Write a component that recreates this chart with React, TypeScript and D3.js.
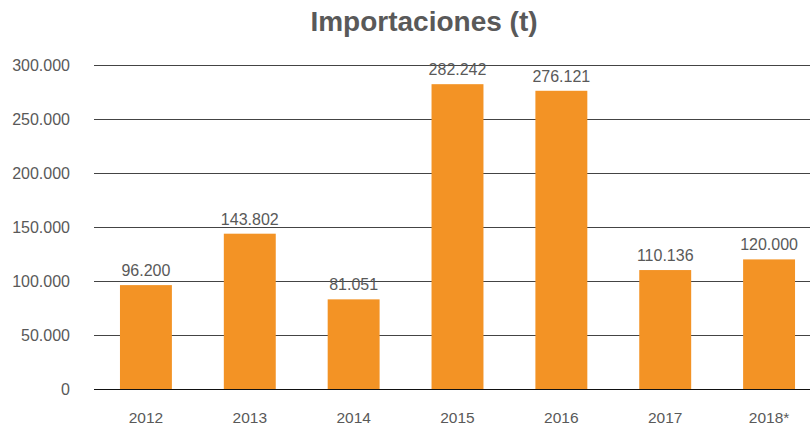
import * as d3 from 'd3';

const years = ['2012', '2013', '2014', '2015', '2016', '2017', '2018*'];
const imports = [96200, 143802, 83000, 282242, 276121, 110136, 120000];
const importLabels = [96200, 143802, 81051, 282242, 276121, 110136, 120000];
const yTicks = [0, 50000, 100000, 150000, 200000, 250000, 300000];

const locale = d3.formatLocale({ decimal: ',', thousands: '.', grouping: [3], currency: ['', ''] });
const fmt = locale.format(',d');

const App = () => {
  const width = 810;
  const height = 425;
  const textColor = '#595959';
  const font = '"Liberation Sans", Arial, sans-serif';

  const x = d3.scaleBand()
    .domain(years)
    .range([94, 821])
    .paddingInner(0.5)
    .paddingOuter(0.25);

  const y = d3.scaleLinear()
    .domain([0, 300000])
    .range([389, 65]);

  return (
    <svg width={width} height={height} style={{ position: 'absolute', left: 0, top: 0, background: '#fff' }}>
      <text x={424} y={31} textAnchor="middle" fontFamily={font} fontWeight="bold" fontSize={28} fill={textColor}>
        Importaciones (t)
      </text>

      {yTicks.map(t => (
        <g key={t}>
          <line x1={94} x2={width} y1={Math.round(y(t)) + 0.5} y2={Math.round(y(t)) + 0.5}
            stroke={t === 0 ? '#111' : '#444'} strokeWidth={1} />
          <text x={70} y={y(t)} dy="0.35em" textAnchor="end" fontFamily={font} fontSize={16} fill={textColor}>
            {fmt(t)}
          </text>
        </g>
      ))}

      {years.map((yr, i) => (
        <g key={yr}>
          <rect x={x(yr)} y={y(imports[i])} width={x.bandwidth()} height={y(0) - y(imports[i])} fill="#F39325" />
          <text x={x(yr)! + x.bandwidth() / 2} y={y(imports[i]) - 9} textAnchor="middle"
            fontFamily={font} fontSize={16} fill={textColor}>
            {fmt(importLabels[i])}
          </text>
          <text x={x(yr)! + x.bandwidth() / 2} y={423} textAnchor="middle"
            fontFamily={font} fontSize={15.5} fill={textColor}>
            {yr}
          </text>
        </g>
      ))}
    </svg>
  );
};

export default App;
